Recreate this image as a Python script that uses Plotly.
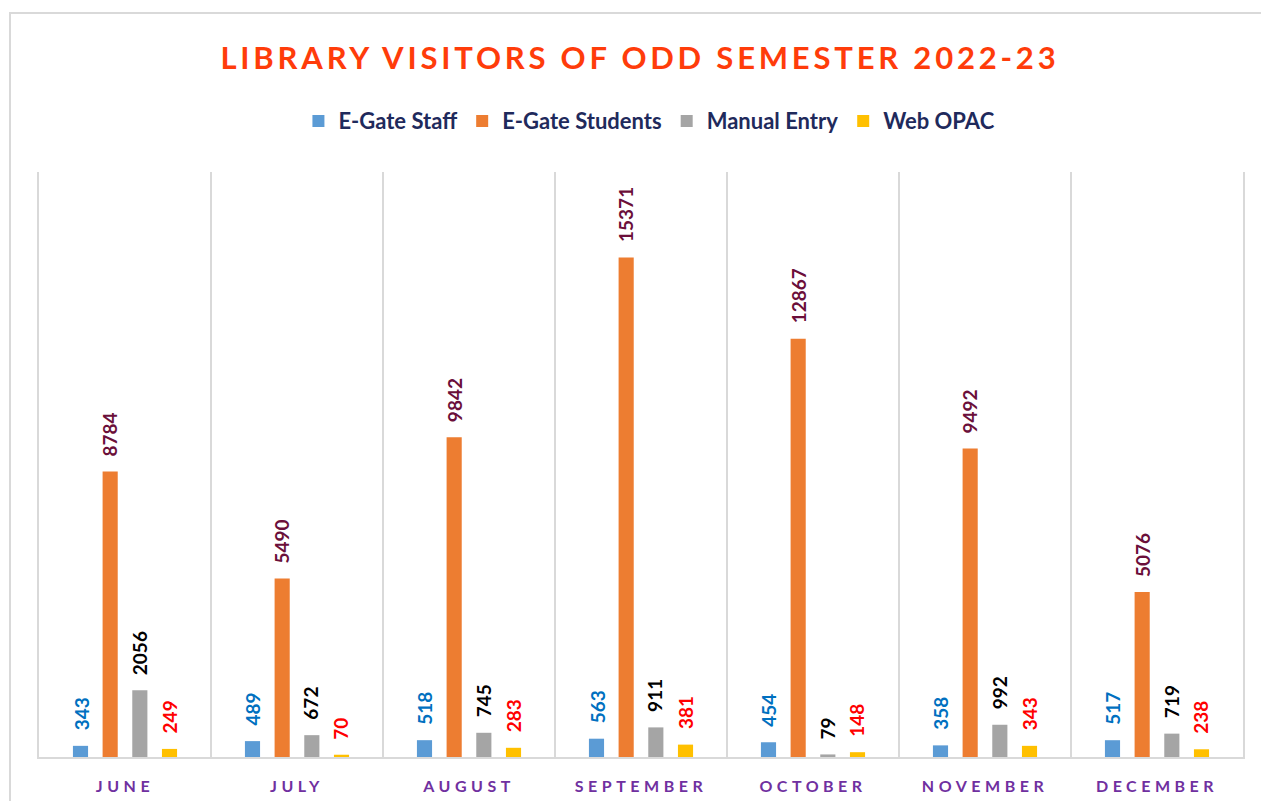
import plotly.graph_objects as go

months = ["JUNE", "JULY", "AUGUST", "SEPTEMBER", "OCTOBER", "NOVEMBER", "DECEMBER"]
egate_staff = [343, 489, 518, 563, 454, 358, 517]
egate_students = [8784, 5490, 9842, 15371, 12867, 9492, 5076]
manual_entry = [2056, 672, 745, 911, 79, 992, 719]
web_opac = [249, 70, 283, 381, 148, 343, 238]

series = [
    ("E-Gate Staff", egate_staff, "#5B9BD5", "#0070C0", -44),
    ("E-Gate Students", egate_students, "#ED7D31", "#6B0F3A", -15),
    ("Manual Entry", manual_entry, "#A5A5A5", "#000000", 14),
    ("Web OPAC", web_opac, "#FFC000", "#FF0000", 44),
]

fig = go.Figure()
annotations = []
for name, vals, col, tcol, shift in series:
    fig.add_trace(go.Bar(name=name, x=months, y=vals, marker_color=col,
                         marker_line_width=0))
    for m, v in zip(months, vals):
        annotations.append(dict(x=m, y=v, text=str(v), showarrow=False,
                                textangle=-90, xanchor="center", yanchor="bottom",
                                xshift=shift, yshift=13,
                                font=dict(family="Lato", size=19, color=tcol, weight="bold")))

fig.update_layout(
    width=1261, height=801,
    margin=dict(l=39, r=18, t=172, b=44, autoexpand=False),
    paper_bgcolor="white", plot_bgcolor="white",
    barmode="group", bargap=0.31, bargroupgap=0.49,
    title=dict(text="<b>LIBRARY VISITORS OF ODD SEMESTER 2022-23</b>",
               x=0.5075, xanchor="center", y=1 - 58 / 801, yanchor="middle",
               font=dict(family="Lato", size=31, color="#FF3C0A")),
    legend=dict(orientation="h", x=0.507, xanchor="center", y=1.087, yanchor="middle",
                font=dict(family="Lato", size=22, color="#1F2A5C", weight="bold"),
                itemsizing="constant", traceorder="normal"),
    showlegend=True,
    annotations=annotations,
    shapes=[dict(type="rect", xref="paper", yref="paper",
                 x0=-0.0241, x1=1.022, y0=-0.0906, y1=1.2718,
                 line=dict(color="#D9D9D9", width=2), fillcolor="rgba(0,0,0,0)", layer="below")],
)
fig.update_xaxes(type="category", tickson="boundaries", showgrid=True,
                 gridcolor="#D9D9D9", gridwidth=2, showline=True, linecolor="#D9D9D9",
                 linewidth=2, ticks="", ticklabelstandoff=14,
                 tickfont=dict(family="Lato", size=16, color="#7030A0", weight="bold"))
fig.update_yaxes(range=[0, 18000], showgrid=False, zeroline=False, showticklabels=False,
                 showline=True, mirror=True, linecolor="#D9D9D9", linewidth=2)

post = """
document.body.style.margin = '0';
document.body.style.padding = '0';
var gd = document.getElementById('{plot_id}');
function ls(){
  gd.querySelectorAll('.gtitle').forEach(function(e){e.style.letterSpacing='3.8px';});
  gd.querySelectorAll('.xtick text').forEach(function(e){e.style.letterSpacing='4.5px';});
}
ls();
"""
fig.write_html("out.html", post_script=post, config={"displayModeBar": False})
